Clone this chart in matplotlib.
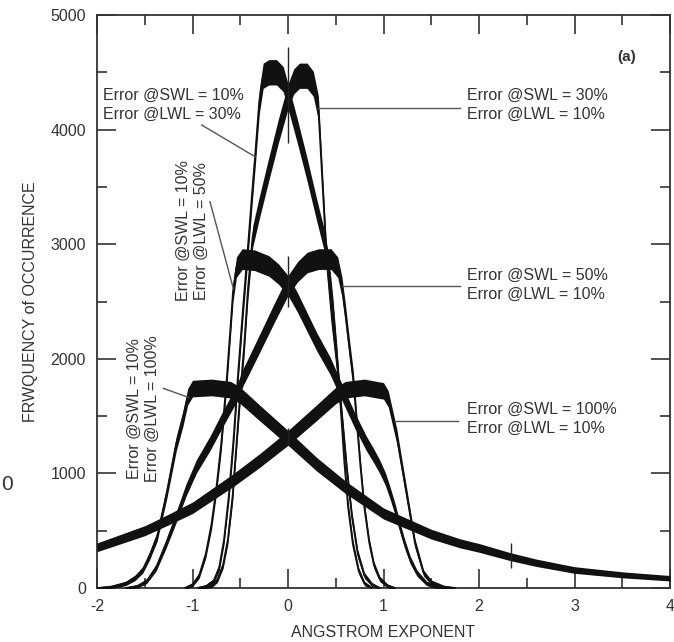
import numpy as np
import matplotlib
matplotlib.use("Agg")
import matplotlib.pyplot as plt
from matplotlib.ticker import MultipleLocator

plt.rcParams['font.family'] = ['Liberation Sans', 'DejaVu Sans']
plt.rcParams['axes.unicode_minus'] = False

# ---- data ----
# Error @SWL = 10%, @LWL = 30%
a_x = [-0.95, -0.86, -0.78, -0.72, -0.67, -0.62, -0.57, -0.52, -0.47, -0.43, -0.38, -0.345, -0.30, -0.26,
       -0.20, -0.12, -0.05, 0.00, 0.10, 0.20, 0.30, 0.37, 0.42, 0.47, 0.51, 0.55, 0.59, 0.63, 0.68, 0.74, 0.80, 0.88]
a_y = [0, 15, 60, 180, 420, 800, 1300, 1900, 2450, 2860, 3400, 3760, 4250, 4470,
       4500, 4500, 4440, 4290, 3980, 3650, 3300, 3065, 2850, 2450, 2050, 1600, 1100, 700, 380, 150, 40, 0]
# Error @SWL = 30%, @LWL = 10%
b_x = [-0.88, -0.80, -0.74, -0.68, -0.63, -0.58, -0.54, -0.50, -0.46, -0.42, -0.37, -0.30, -0.20, -0.10,
       0.00, 0.06, 0.12, 0.20, 0.265, 0.318, 0.37, 0.405, 0.46, 0.52, 0.57, 0.62, 0.67, 0.73, 0.80, 0.88, 0.96]
b_y = [0, 20, 70, 200, 420, 800, 1250, 1700, 2100, 2600, 3065, 3320, 3660, 3990,
       4290, 4420, 4470, 4470, 4400, 4188, 3400, 2862, 2350, 1900, 1450, 1000, 620, 300, 110, 30, 0]
# Error @SWL = 10%, @LWL = 50%
c_x = [-1.08, -1.0, -0.93, -0.86, -0.80, -0.75, -0.70, -0.642, -0.60, -0.576, -0.54, -0.48, -0.35, -0.2,
       -0.1, 0.0, 0.1, 0.2, 0.3, 0.44, 0.58, 0.7, 0.82, 0.9, 0.96, 1.02, 1.07, 1.12, 1.17, 1.22, 1.28,
       1.35, 1.45, 1.55, 1.65]
c_y = [0, 30, 110, 300, 560, 870, 1250, 1815, 2300, 2583, 2800, 2870, 2860, 2810,
       2740, 2640, 2490, 2320, 2150, 1940, 1680, 1460, 1262, 1150, 1059, 950, 826, 690, 535, 390, 244,
       130, 41, 10, 0]
# Error @SWL = 50%, @LWL = 10%
d_x = [-1.70, -1.58, -1.48, -1.38, -1.28, -1.17, -1.07, -0.96, -0.817, -0.68, -0.537, -0.47, -0.3, -0.15,
       0.0, 0.1, 0.2, 0.32, 0.45, 0.52, 0.565, 0.6, 0.642, 0.684, 0.72, 0.76, 0.8, 0.85, 0.9, 0.96, 1.04, 1.12]
d_y = [0, 15, 60, 180, 380, 620, 850, 1060, 1262, 1480, 1699, 1840, 2130, 2390,
       2640, 2760, 2840, 2870, 2870, 2800, 2627, 2400, 2100, 1815, 1450, 1050, 700, 400, 200, 80, 20, 0]
# Error @SWL = 10%, @LWL = 100%
e_x = [-2.0, -1.85, -1.7, -1.6, -1.52, -1.45, -1.37, -1.27, -1.17, -1.10, -1.05, -1.0, -0.8, -0.6,
       -0.5, -0.3, 0.0, 0.3, 0.6, 1.0, 1.5, 1.8, 2.0, 2.33, 2.6, 3.0, 3.5, 4.0]
e_y = [0, 10, 40, 90, 160, 280, 450, 830, 1260, 1480, 1670, 1740, 1750, 1730,
       1680, 1530, 1310, 1080, 880, 650, 470, 390, 350, 273, 220, 157, 115, 85]
# Error @SWL = 100%, @LWL = 10%
f_x = [-2.0, -1.5, -1.27, -1.0, -0.575, -0.3, 0.0, 0.3, 0.5, 0.6, 0.8, 1.0, 1.05, 1.14, 1.24, 1.33,
       1.42, 1.5, 1.63, 1.75]
f_y = [355, 500, 590, 700, 940, 1110, 1310, 1530, 1680, 1730, 1750, 1720, 1650, 1320, 830, 390,
       130, 50, 10, 0]

# histogram spikes (x, low, high)
spike_x = [0.0, 0.0, 0.0, 2.33]
spike_lo = [3880, 2450, 1250, 175]
spike_hi = [4720, 2900, 1395, 390]

x_ticks = [-2, -1, 0, 1, 2, 3, 4]
y_ticks = [0, 1000, 2000, 3000, 4000, 5000]

TXT = '#333333'

fig = plt.figure(figsize=(6.74, 6.42), dpi=100)
ax = fig.add_axes([97 / 674, 54 / 642, (670 - 97) / 674, (588 - 15) / 642])

for xs, ys in [(a_x, a_y), (b_x, b_y), (c_x, c_y), (d_x, d_y), (e_x, e_y), (f_x, f_y)]:
    xs = np.asarray(xs, float)
    ys = np.asarray(ys, float)
    band = 1.5 * np.sqrt(ys) + 10  # visual noise envelope
    ax.fill_between(xs, ys - band, ys + band, color='#111111', lw=0, zorder=3)
    ax.plot(xs, ys, color='#111111', lw=1.3, zorder=3)

ax.vlines(spike_x, spike_lo, spike_hi, color='#222222', lw=1.0, zorder=3)

# annotations
fs = 11.5
ls = 1.3
ax.text(-1.937, 4215, "Error @SWL = 10%\nError @LWL = 30%", ha='left', va='center',
        fontsize=fs, color=TXT, linespacing=ls)
ax.plot([-0.904, -0.346], [4040, 3764], color='#555555', lw=1.0, zorder=4)

ax.text(1.871, 4215, "Error @SWL = 30%\nError @LWL = 10%", ha='left', va='center',
        fontsize=fs, color=TXT, linespacing=ls)
ax.plot([0.318, 1.801], [4188, 4188], color='#555555', lw=1.0, zorder=4)

ax.text(1.871, 2644, "Error @SWL = 50%\nError @LWL = 10%", ha='left', va='center',
        fontsize=fs, color=TXT, linespacing=ls)
ax.plot([0.562, 1.801], [2635, 2635], color='#555555', lw=1.0, zorder=4)

ax.text(1.871, 1475, "Error @SWL = 100%\nError @LWL = 10%", ha='left', va='center',
        fontsize=fs, color=TXT, linespacing=ls)
ax.plot([1.12, 1.783], [1460, 1460], color='#555555', lw=1.0, zorder=4)

ax.text(-1.0, 3115, "Error @SWL = 10%\nError @LWL = 50%", ha='center', va='center',
        rotation=90, fontsize=fs, color=TXT, linespacing=ls)
ax.plot([-0.817, -0.573], [3371, 2615], color='#555555', lw=1.0, zorder=4)

ax.text(-1.513, 1562, "Error @SWL = 10%\nError @LWL = 100%", ha='center', va='center',
        rotation=90, fontsize=fs, color=TXT, linespacing=ls)
ax.plot([-1.306, -1.044], [1742, 1664], color='#555555', lw=1.0, zorder=4)

ax.text(3.545, 4633, "(a)", ha='center', va='center', fontsize=11, fontweight='bold', color=TXT)

# axes
ax.set_xlim(-2, 4)
ax.set_ylim(0, 5000)
ax.set_xticks(x_ticks)
ax.set_xticklabels([str(t) for t in x_ticks])
ax.set_yticks(y_ticks)
ax.set_yticklabels([str(t) for t in y_ticks])
ax.xaxis.set_minor_locator(MultipleLocator(0.5))
ax.yaxis.set_minor_locator(MultipleLocator(500))
ax.tick_params(which='major', direction='in', length=14, width=1.2, colors='#333333',
               top=True, right=True, labelsize=11.5, pad=8)
ax.tick_params(which='minor', direction='in', length=7, width=1.2, colors='#333333',
               top=True, right=True)
for sp in ax.spines.values():
    sp.set_color('#333333')
    sp.set_linewidth(1.3)

ax.set_xlabel("ANGSTROM EXPONENT", fontsize=11.5, color=TXT, labelpad=8)
ax.set_ylabel("FRWQUENCY of OCCURRENCE", fontsize=11.5, color=TXT, labelpad=9)

# stray digit from neighbouring panel at left edge
fig.text(1 / 674, (642 - 485) / 642, "0", ha='left', va='center', fontsize=15, color=TXT)

fig.savefig("out.png", dpi=100)
